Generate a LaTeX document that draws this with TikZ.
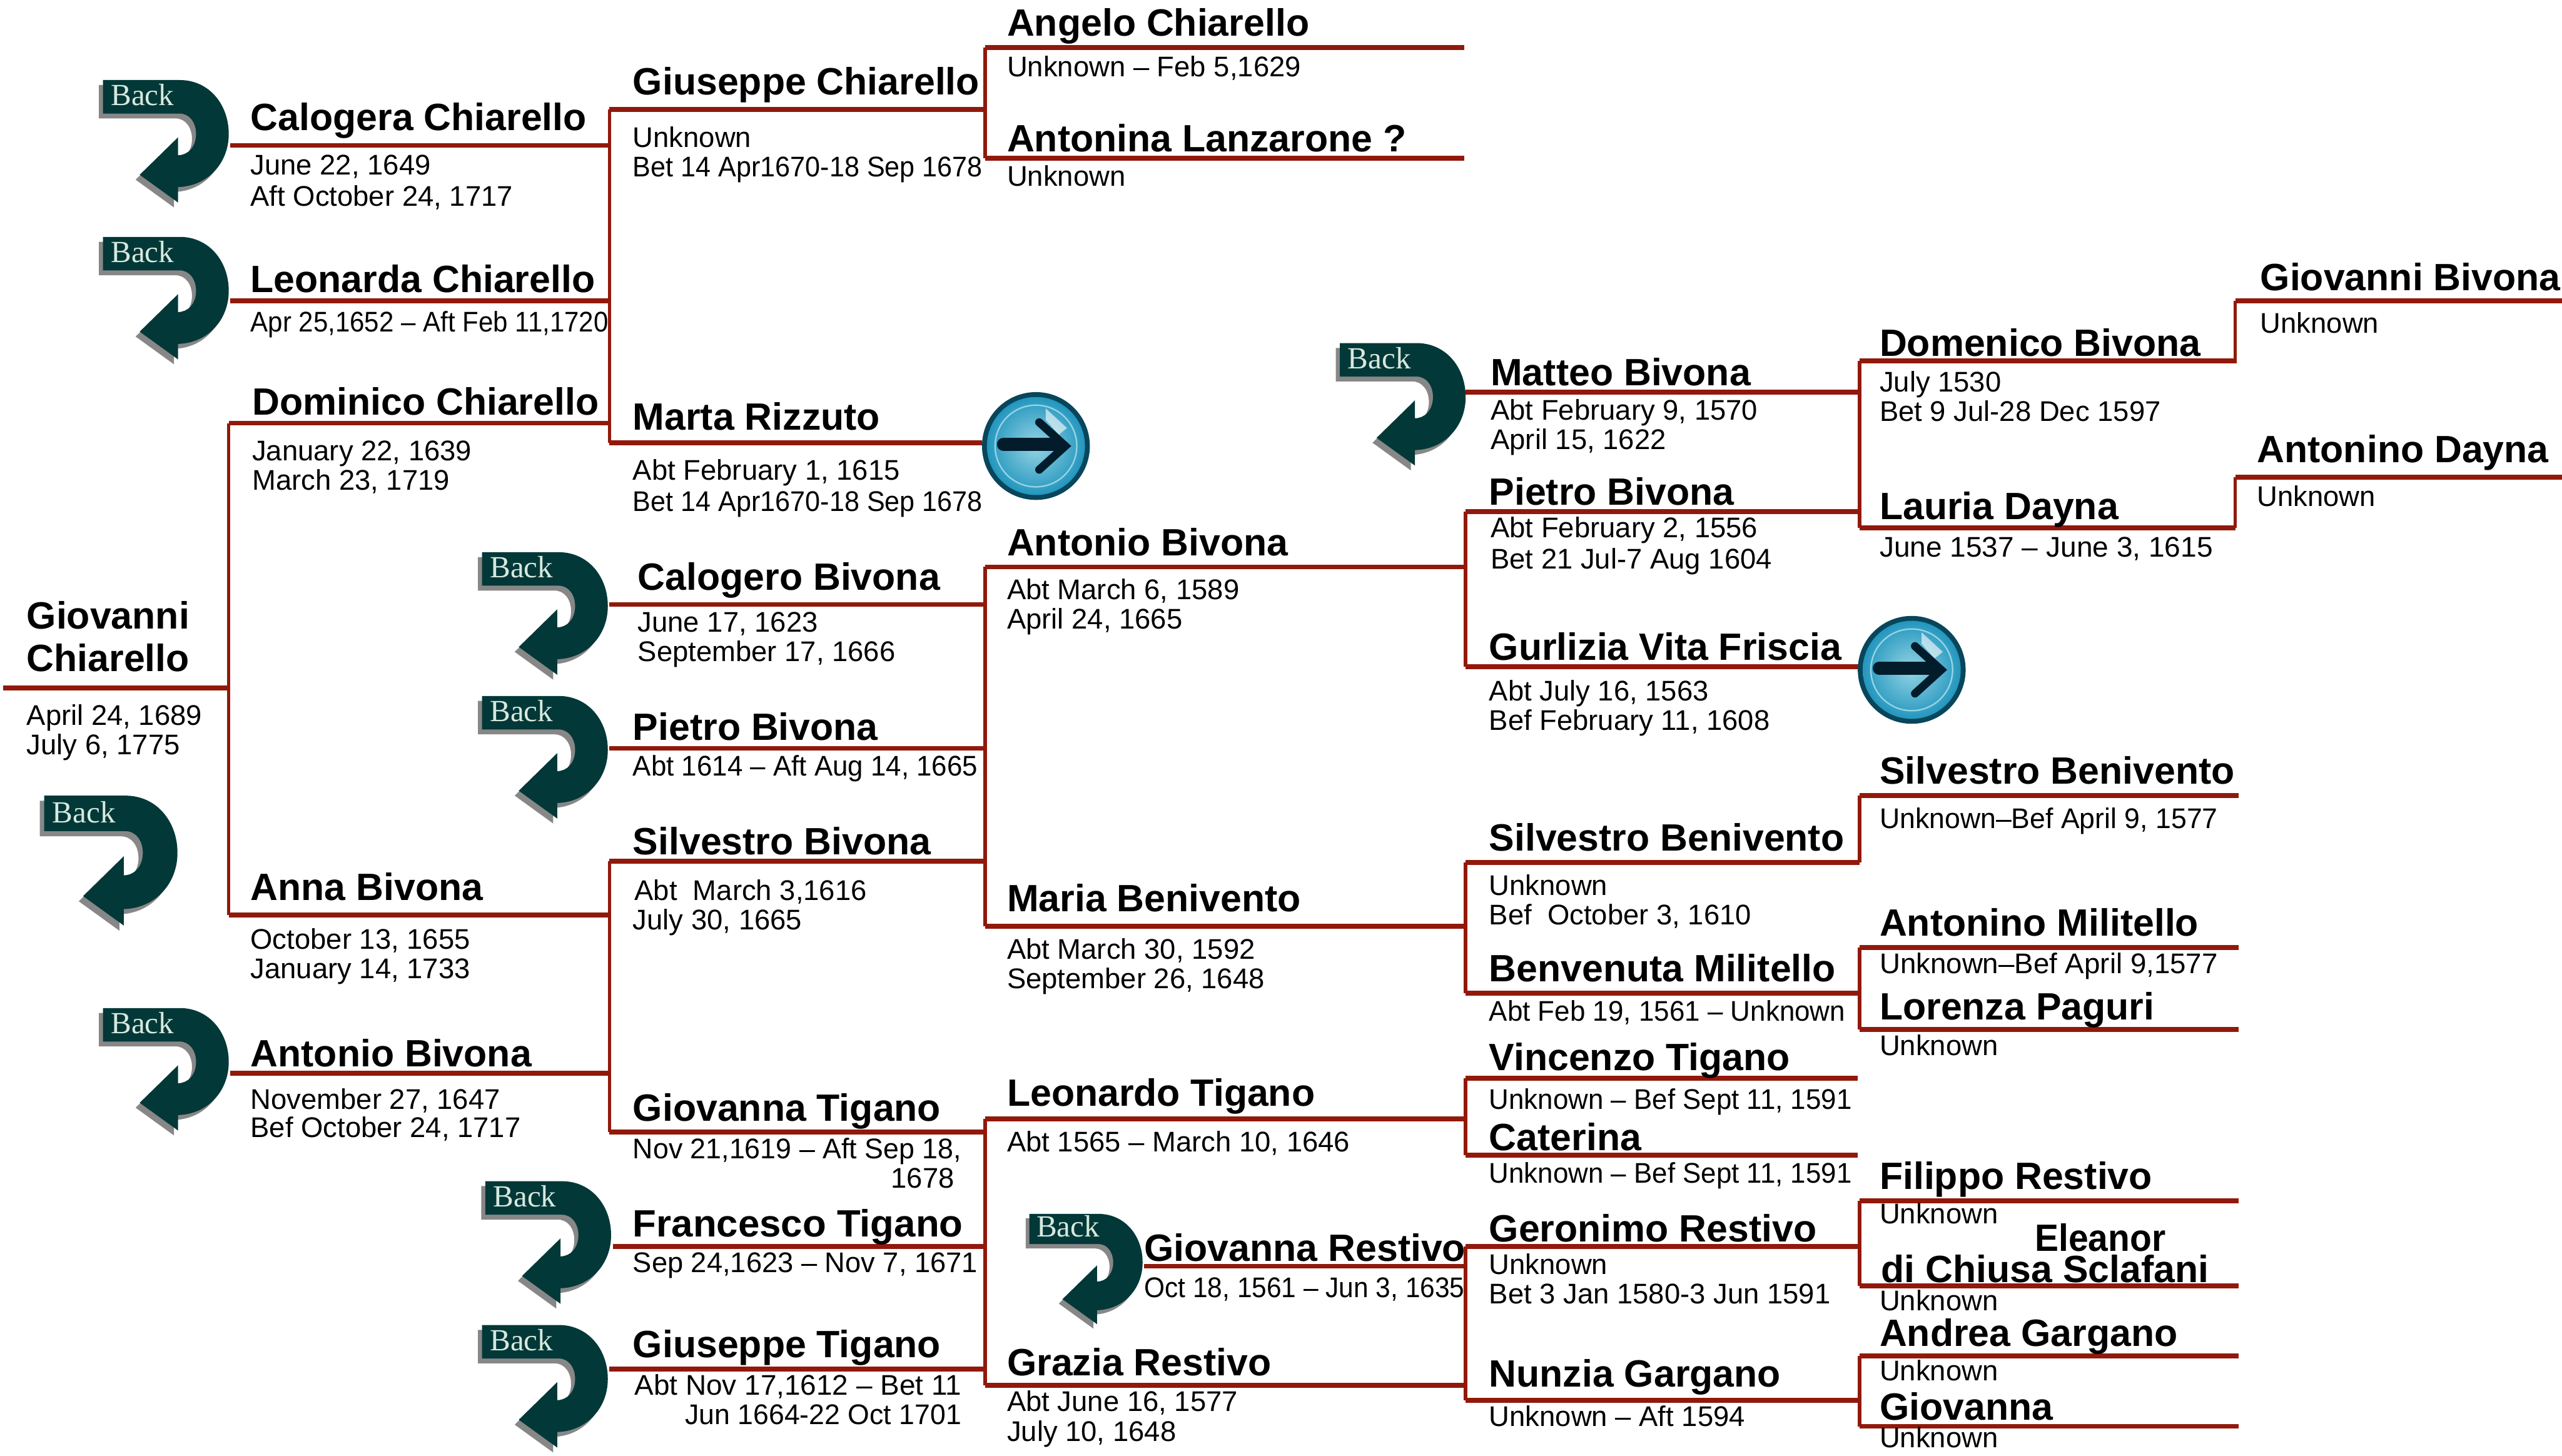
\documentclass[tikz,border=0pt]{standalone}
\usepackage{fontspec}
\setmainfont{Liberation Sans}
\newfontfamily\backfont{Liberation Serif}
\usepackage{graphicx}
\definecolor{famred}{RGB}{145,25,12}
\definecolor{backdark}{RGB}{3,56,56}
\definecolor{backgrey}{RGB}{135,135,135}
\definecolor{backtext}{RGB}{216,232,222}
\definecolor{btnring}{RGB}{8,70,92}
\definecolor{btnblue}{RGB}{35,150,190}
\definecolor{btnpale}{RGB}{150,212,228}
\definecolor{btnink}{RGB}{2,28,44}
\newlength{\unitpx}
\setlength{\unitpx}{0.02cm}
\newcommand{\fitwidth}[2]{\resizebox{#1\unitpx}{\height}{#2}}
\newcommand{\backoutline}{(0,0) -- (47,0) .. controls (65,0) and (77,15) .. (77,33) .. controls (77,51) and (64,65) .. (46,65.5) -- (46,75) -- (22.5,58) -- (46,35) -- (46,46) .. controls (52,46) and (57,41) .. (57,33) .. controls (57,26) and (53,20.5) .. (47,20.5) -- (0,20.5) -- cycle}
\tikzset{
    famline/.style={famred, line width=1.7pt},
    famdrop/.style={famred, line width=1.2pt},
    personname/.style={anchor=base west, inner sep=0pt, font=\fontsize{13.25}{15}\selectfont\bfseries},
    persondate/.style={anchor=base west, inner sep=0pt, font=\fontsize{9.9}{12}\selectfont},
    backarrow/.pic={
        \fill[backgrey, shift={(-2.5,3)}] \backoutline;
        \fill[backdark] \backoutline;
        \node[anchor=base west, inner sep=0pt, backtext, font=\fontsize{10.7}{12}\selectfont\backfont] (-word) at (4.5,15.7) {Back};
    },
    arrowbutton/.pic={
        \fill[btnring] (0,0) circle (33);
        \shade[inner color=btnpale, outer color=btnblue] (0,0) circle (30);
        \draw[btnpale, line width=0.5pt] (0,0) circle (25);
        \fill[white, opacity=0.6] (6,-23) -- (19,-11) -- (14,-7) -- (6,-16) -- cycle;
        \draw[btnink, line width=4.4pt, line cap=round] (-20,-1) -- (14,-1);
        \draw[btnink, line width=2.8pt, line cap=round, line join=miter] (2,-14.5) -- (18,0) -- (2,14.5);
    }
}
\begin{document}
\begin{tikzpicture}[x=0.02cm, y=-0.02cm]
    \useasboundingbox (0,0) rectangle (1568,891);

    % Line ends
    \coordinate (giovanniL) at (2,421); \coordinate (giovanniR) at (140,421);
    \coordinate (dominicoL) at (140,259); \coordinate (dominicoR) at (373,259);
    \coordinate (annaL) at (140,560); \coordinate (annaR) at (373,560);
    \coordinate (calogeraL) at (141,89); \coordinate (calogeraR) at (373,89);
    \coordinate (leonardaL) at (141,184); \coordinate (leonardaR) at (373,184);
    \coordinate (antonioAL) at (141,657); \coordinate (antonioAR) at (373,657);
    \coordinate (giuseppeL) at (373,67); \coordinate (giuseppeR) at (603,67);
    \coordinate (martaL) at (373,271); \coordinate (martaR) at (601,271);
    \coordinate (calogeroL) at (373,370); \coordinate (calogeroR) at (603,370);
    \coordinate (pietroBL) at (373,458); \coordinate (pietroBR) at (603,458);
    \coordinate (silvestroBL) at (373,527); \coordinate (silvestroBR) at (603,527);
    \coordinate (tiganoL) at (373,693); \coordinate (tiganoR) at (603,693);
    \coordinate (francescoL) at (375,763); \coordinate (francescoR) at (603,763);
    \coordinate (giuseppeTL) at (373,838); \coordinate (giuseppeTR) at (603,838);
    \coordinate (angeloL) at (603,29); \coordinate (angeloR) at (896,29);
    \coordinate (antoninaL) at (603,97); \coordinate (antoninaR) at (896,97);
    \coordinate (antonioBL) at (603,347); \coordinate (antonioBR) at (897,347);
    \coordinate (mariaL) at (603,567); \coordinate (mariaR) at (897,567);
    \coordinate (leonardoL) at (603,685); \coordinate (leonardoR) at (897,685);
    \coordinate (graziaL) at (603,848); \coordinate (graziaR) at (897,848);
    \coordinate (restivoL) at (700,775); \coordinate (restivoR) at (897,775);
    \coordinate (matteoL) at (897,240); \coordinate (matteoR) at (1138,240);
    \coordinate (pietroFL) at (897,313); \coordinate (pietroFR) at (1138,313);
    \coordinate (gurliziaL) at (897,408); \coordinate (gurliziaR) at (1138,408);
    \coordinate (beniventoL) at (897,528); \coordinate (beniventoR) at (1138,528);
    \coordinate (benvenutaL) at (897,608); \coordinate (benvenutaR) at (1138,608);
    \coordinate (vincenzoL) at (897,660); \coordinate (vincenzoR) at (1137,660);
    \coordinate (caterinaL) at (897,707); \coordinate (caterinaR) at (1137,707);
    \coordinate (geronimoL) at (897,763); \coordinate (geronimoR) at (1138,763);
    \coordinate (nunziaL) at (897,857); \coordinate (nunziaR) at (1138,857);
    \coordinate (domenicoL) at (1138,221); \coordinate (domenicoR) at (1369,221);
    \coordinate (lauriaL) at (1138,323); \coordinate (lauriaR) at (1368,323);
    \coordinate (sbeniventoL) at (1138,487); \coordinate (sbeniventoR) at (1370,487);
    \coordinate (militelloL) at (1138,580); \coordinate (militelloR) at (1370,580);
    \coordinate (paguriL) at (1138,630); \coordinate (paguriR) at (1370,630);
    \coordinate (filippoL) at (1138,735); \coordinate (filippoR) at (1370,735);
    \coordinate (eleanorL) at (1138,787); \coordinate (eleanorR) at (1370,787);
    \coordinate (andreaL) at (1138,830); \coordinate (andreaR) at (1370,830);
    \coordinate (giovannaGL) at (1138,873); \coordinate (giovannaGR) at (1370,873);
    \coordinate (bivonaL) at (1368,184); \coordinate (bivonaR) at (1568,184);
    \coordinate (daynaL) at (1368,292); \coordinate (daynaR) at (1568,292);

    % Horizontal lines
    \draw[famline] (giovanniL) -- (giovanniR);
    \draw[famline] (dominicoL) -- (dominicoR);
    \draw[famline] (annaL) -- (annaR);
    \draw[famline] (calogeraL) -- (calogeraR);
    \draw[famline] (leonardaL) -- (leonardaR);
    \draw[famline] (antonioAL) -- (antonioAR);
    \draw[famline] (giuseppeL) -- (giuseppeR);
    \draw[famline] (martaL) -- (martaR);
    \draw[famline] (calogeroL) -- (calogeroR);
    \draw[famline] (pietroBL) -- (pietroBR);
    \draw[famline] (silvestroBL) -- (silvestroBR);
    \draw[famline] (tiganoL) -- (tiganoR);
    \draw[famline] (francescoL) -- (francescoR);
    \draw[famline] (giuseppeTL) -- (giuseppeTR);
    \draw[famline] (angeloL) -- (angeloR);
    \draw[famline] (antoninaL) -- (antoninaR);
    \draw[famline] (antonioBL) -- (antonioBR);
    \draw[famline] (mariaL) -- (mariaR);
    \draw[famline] (leonardoL) -- (leonardoR);
    \draw[famline] (graziaL) -- (graziaR);
    \draw[famline] (restivoL) -- (restivoR);
    \draw[famline] (matteoL) -- (matteoR);
    \draw[famline] (pietroFL) -- (pietroFR);
    \draw[famline] (gurliziaL) -- (gurliziaR);
    \draw[famline] (beniventoL) -- (beniventoR);
    \draw[famline] (benvenutaL) -- (benvenutaR);
    \draw[famline] (vincenzoL) -- (vincenzoR);
    \draw[famline] (caterinaL) -- (caterinaR);
    \draw[famline] (geronimoL) -- (geronimoR);
    \draw[famline] (nunziaL) -- (nunziaR);
    \draw[famline] (domenicoL) -- (domenicoR);
    \draw[famline] (lauriaL) -- (lauriaR);
    \draw[famline] (sbeniventoL) -- (sbeniventoR);
    \draw[famline] (militelloL) -- (militelloR);
    \draw[famline] (paguriL) -- (paguriR);
    \draw[famline] (filippoL) -- (filippoR);
    \draw[famline] (eleanorL) -- (eleanorR);
    \draw[famline] (andreaL) -- (andreaR);
    \draw[famline] (giovannaGL) -- (giovannaGR);
    \draw[famline] (bivonaL) -- (bivonaR);
    \draw[famline] (daynaL) -- (daynaR);

    % Vertical drops
    \draw[famdrop] (dominicoL) -- (annaL);
    \draw[famdrop] (giuseppeL) -- (martaL);
    \draw[famdrop] (silvestroBL) -- (tiganoL);
    \draw[famdrop] (angeloL) -- (antoninaL);
    \draw[famdrop] (antonioBL) -- (mariaL);
    \draw[famdrop] (leonardoL) -- (graziaL);
    \draw[famdrop] (pietroFL) -- (gurliziaL);
    \draw[famdrop] (beniventoL) -- (benvenutaL);
    \draw[famdrop] (vincenzoL) -- (caterinaL);
    \draw[famdrop] (geronimoL) -- (nunziaL);
    \draw[famdrop] (domenicoL) -- (lauriaL);
    \draw[famdrop] (sbeniventoL) -- (beniventoR);
    \draw[famdrop] (militelloL) -- (paguriL);
    \draw[famdrop] (filippoL) -- (eleanorL);
    \draw[famdrop] (andreaL) -- (giovannaGL);
    \draw[famdrop] (bivonaL) -- (lauriaR |- domenicoR);
    \draw[famdrop] (daynaL) -- (lauriaR);

    % Back arrows
    \pic (backCalogera) at (63,49) {backarrow};
    \pic (backLeonarda) at (63,145) {backarrow};
    \pic (backCalogero) at (295,338) {backarrow};
    \pic (backPietro) at (295,426) {backarrow};
    \pic[scale=1.06] (backGiovanni) at (27,487) {backarrow};
    \pic (backAntonio) at (63,617) {backarrow};
    \pic (backFrancesco) at (297,723) {backarrow};
    \pic (backGiuseppe) at (295,811) {backarrow};
    \pic[scale=0.9] (backRestivo) at (630,743) {backarrow};
    \pic (backMatteo) at (820,210) {backarrow};

    % Round buttons
    \pic (btnMarta) at (634,273) {arrowbutton};
    \pic (btnGurlizia) at (1170,410) {arrowbutton};

    % Generation one and two
    \node[personname] (giovanniA) at (16,385) {Giovanni};
    \node[personname] (giovanniB) at (16,411) {Chiarello};
    \node[persondate] (giovanniBorn) at (16,444) {April 24, 1689};
    \node[persondate] (giovanniDied) at (16,462) {July 6, 1775};
    \node[personname] (calogera) at (153,80) {Calogera Chiarello};
    \node[persondate] (calogeraBorn) at (153,107) {June 22, 1649};
    \node[persondate] (calogeraDied) at (153,126) {Aft October 24, 1717};
    \node[personname] (leonarda) at (153,179) {Leonarda Chiarello};
    \node[persondate] (leonardaDates) at (153,203) {\fitwidth{219}{Apr 25,1652 -- Aft Feb 11,1720}};
    \node[personname] (dominico) at (154,254) {Dominico Chiarello};
    \node[persondate] (dominicoBorn) at (154,282) {January 22, 1639};
    \node[persondate] (dominicoDied) at (154,300) {March 23, 1719};
    \node[personname] (anna) at (153,551) {Anna Bivona};
    \node[persondate] (annaBorn) at (153,581) {October 13, 1655};
    \node[persondate] (annaDied) at (153,599) {January 14, 1733};
    \node[personname] (antonioA) at (153,653) {Antonio Bivona};
    \node[persondate] (antonioABorn) at (153,679) {November 27, 1647};
    \node[persondate] (antonioADied) at (153,696) {Bef October 24, 1717};

    % Generation three
    \node[personname] (giuseppe) at (387,58) {Giuseppe Chiarello};
    \node[persondate] (giuseppeBorn) at (387,90) {Unknown};
    \node[persondate] (giuseppeDied) at (387,108) {\fitwidth{214}{Bet 14 Apr1670-18 Sep 1678}};
    \node[personname] (marta) at (387,263) {Marta Rizzuto};
    \node[persondate] (martaBorn) at (387,294) {Abt February 1, 1615};
    \node[persondate] (martaDied) at (387,313) {\fitwidth{214}{Bet 14 Apr1670-18 Sep 1678}};
    \node[personname] (calogero) at (390,361) {Calogero Bivona};
    \node[persondate] (calogeroBorn) at (390,387) {June 17, 1623};
    \node[persondate] (calogeroDied) at (390,405) {September 17, 1666};
    \node[personname] (pietroB) at (387,453) {Pietro Bivona};
    \node[persondate] (pietroBDates) at (387,475) {\fitwidth{211}{Abt 1614 -- Aft Aug 14, 1665}};
    \node[personname] (silvestroB) at (387,523) {Silvestro Bivona};
    \node[persondate] (silvestroBBorn) at (388,551) {Abt~~March 3,1616};
    \node[persondate] (silvestroBDied) at (387,569) {July 30, 1665};
    \node[personname] (tigano) at (387,686) {Giovanna Tigano};
    \node[persondate] (tiganoBorn) at (387,709) {\fitwidth{201}{Nov 21,1619 -- Aft Sep 18,}};
    \node[persondate] (tiganoDied) at (545,727) {1678};
    \node[personname] (francesco) at (387,757) {\fitwidth{202}{Francesco Tigano}};
    \node[persondate] (francescoDates) at (387,779) {\fitwidth{211}{Sep 24,1623 -- Nov 7, 1671}};
    \node[personname] (giuseppeT) at (387,831) {Giuseppe Tigano};
    \node[persondate] (giuseppeTBorn) at (388,854) {\fitwidth{200}{Abt Nov 17,1612 -- Bet 11}};
    \node[persondate] (giuseppeTDied) at (419,872) {\fitwidth{169}{Jun 1664-22 Oct 1701}};

    % Generation four
    \node[personname] (angelo) at (616,22) {Angelo Chiarello};
    \node[persondate] (angeloDates) at (616,47) {Unknown -- Feb 5,1629};
    \node[personname] (antonina) at (616,93) {Antonina Lanzarone ?};
    \node[persondate] (antoninaDates) at (616,114) {Unknown};
    \node[personname] (antonioB) at (616,340) {Antonio Bivona};
    \node[persondate] (antonioBBorn) at (616,367) {Abt March 6, 1589};
    \node[persondate] (antonioBDied) at (616,385) {April 24, 1665};
    \node[personname] (maria) at (616,558) {Maria Benivento};
    \node[persondate] (mariaBorn) at (616,587) {Abt March 30, 1592};
    \node[persondate] (mariaDied) at (616,605) {September 26, 1648};
    \node[personname] (leonardo) at (616,677) {Leonardo Tigano};
    \node[persondate] (leonardoDates) at (616,705) {Abt 1565 -- March 10, 1646};
    \node[personname] (restivo) at (700,772) {Giovanna Restivo};
    \node[persondate] (restivoDates) at (700,794) {\fitwidth{196}{Oct 18, 1561 -- Jun 3, 1635}};
    \node[personname] (grazia) at (616,842) {Grazia Restivo};
    \node[persondate] (graziaBorn) at (616,864) {Abt June 16, 1577};
    \node[persondate] (graziaDied) at (616,882) {July 10, 1648};

    % Generation five
    \node[personname] (matteo) at (912,236) {Matteo Bivona};
    \node[persondate] (matteoBorn) at (912,257) {Abt February 9, 1570};
    \node[persondate] (matteoDied) at (912,275) {April 15, 1622};
    \node[personname] (pietroF) at (911,309) {Pietro Bivona};
    \node[persondate] (pietroFBorn) at (912,329) {Abt February 2, 1556};
    \node[persondate] (pietroFDied) at (912,348) {Bet 21 Jul-7 Aug 1604};
    \node[personname] (gurlizia) at (911,404) {Gurlizia Vita Friscia};
    \node[persondate] (gurliziaBorn) at (911,429) {Abt July 16, 1563};
    \node[persondate] (gurliziaDied) at (911,447) {Bef February 11, 1608};
    \node[personname] (benivento) at (911,521) {Silvestro Benivento};
    \node[persondate] (beniventoBorn) at (911,548) {Unknown};
    \node[persondate] (beniventoDied) at (911,566) {Bef~~October 3, 1610};
    \node[personname] (benvenuta) at (911,601) {Benvenuta Militello};
    \node[persondate] (benvenutaDates) at (911,625) {\fitwidth{218}{Abt Feb 19, 1561 -- Unknown}};
    \node[personname] (vincenzo) at (911,655) {Vincenzo Tigano};
    \node[persondate] (vincenzoDates) at (911,679) {\fitwidth{222}{Unknown -- Bef Sept 11, 1591}};
    \node[personname] (caterina) at (911,704) {Caterina};
    \node[persondate] (caterinaDates) at (911,724) {\fitwidth{222}{Unknown -- Bef Sept 11, 1591}};
    \node[personname] (geronimo) at (911,760) {Geronimo Restivo};
    \node[persondate] (geronimoBorn) at (911,780) {Unknown};
    \node[persondate] (geronimoDied) at (911,798) {Bet 3 Jan 1580-3 Jun 1591};
    \node[personname] (nunzia) at (911,849) {Nunzia Gargano};
    \node[persondate] (nunziaDates) at (911,873) {Unknown -- Aft 1594};

    % Generation six
    \node[personname] (domenico) at (1150,218) {Domenico Bivona};
    \node[persondate] (domenicoBorn) at (1150,240) {July 1530};
    \node[persondate] (domenicoDied) at (1150,258) {Bet 9 Jul-28 Dec 1597};
    \node[personname] (lauria) at (1150,318) {Lauria Dayna};
    \node[persondate] (lauriaDates) at (1150,341) {\fitwidth{204}{June 1537 -- June 3, 1615}};
    \node[personname] (sbenivento) at (1150,480) {Silvestro Benivento};
    \node[persondate] (sbeniventoDates) at (1150,507) {\fitwidth{207}{Unknown--Bef April 9, 1577}};
    \node[personname] (militello) at (1150,573) {Antonino Militello};
    \node[persondate] (militelloDates) at (1150,596) {\fitwidth{207}{Unknown--Bef April 9,1577}};
    \node[personname] (paguri) at (1150,624) {Lorenza Paguri};
    \node[persondate] (paguriDates) at (1150,646) {Unknown};
    \node[personname] (filippo) at (1150,728) {Filippo Restivo};
    \node[persondate] (filippoDates) at (1150,749) {Unknown};
    \node[personname] (eleanorA) at (1245,766) {\fitwidth{80}{Eleanor}};
    \node[personname] (eleanorB) at (1151,785) {di Chiusa Sclafani};
    \node[persondate] (eleanorDates) at (1150,802) {Unknown};
    \node[personname] (andrea) at (1150,824) {Andrea Gargano};
    \node[persondate] (andreaDates) at (1150,845) {Unknown};
    \node[personname] (giovannaG) at (1150,869) {Giovanna};
    \node[persondate] (giovannaGDates) at (1150,886) {Unknown};

    % Generation seven
    \node[personname] (bivona) at (1383,178) {Giovanni Bivona};
    \node[persondate] (bivonaDates) at (1383,204) {Unknown};
    \node[personname] (dayna) at (1381,283) {Antonino Dayna};
    \node[persondate] (daynaDates) at (1381,310) {Unknown};
\end{tikzpicture}
\end{document}
